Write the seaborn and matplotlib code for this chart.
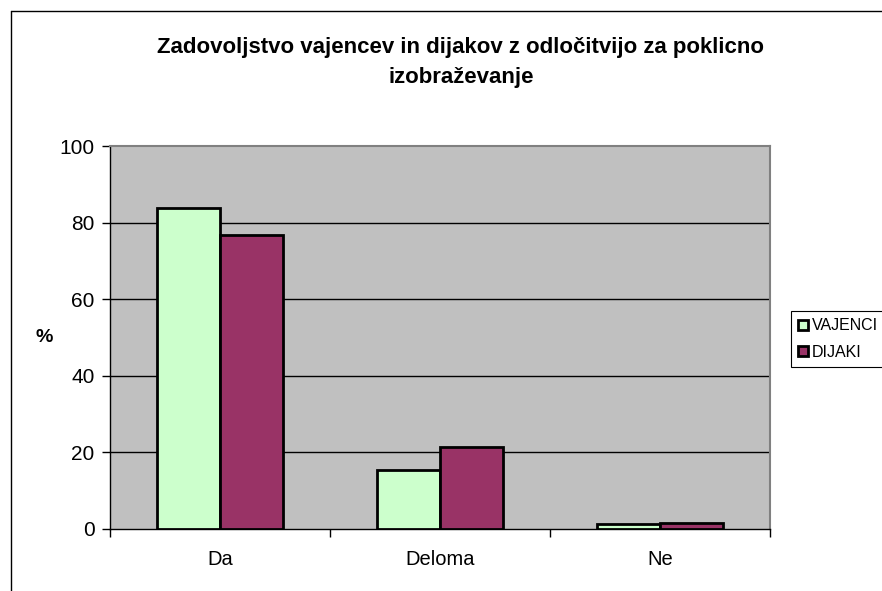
import numpy as np
import pandas as pd
import seaborn as sns
import matplotlib.pyplot as plt
from matplotlib.lines import Line2D

categories = ['Da', 'Deloma', 'Ne']
vajenci = [83.8, 15.4, 1.2]
dijaki = [76.8, 21.5, 1.6]
series_names = ['VAJENCI', 'DIJAKI']
colors = ['#CCFFCC', '#993366']

df = pd.DataFrame({
    'kategorija': categories * 2,
    'vrednost': vajenci + dijaki,
    'skupina': [series_names[0]] * 3 + [series_names[1]] * 3,
})

sns.set_style('white')
plt.rcParams['font.family'] = ['Liberation Sans', 'DejaVu Sans']
plt.rcParams['text.color'] = 'black'
plt.rcParams['xtick.color'] = 'black'
plt.rcParams['ytick.color'] = 'black'

fig = plt.figure(figsize=(8.82, 5.91), dpi=100)
W, H = 882, 591
ax = fig.add_axes([110 / W, 1 - 529 / H, 660 / W, 383 / H])
ax.set_facecolor('#C0C0C0')

sns.barplot(data=df, x='kategorija', y='vrednost', hue='skupina',
            palette=colors, width=0.573, edgecolor='black', linewidth=2,
            saturation=1, ax=ax, zorder=3)

ax.set_ylim(0, 100)
ax.set_xlim(-0.5, 2.5)
ax.set_yticks([0, 20, 40, 60, 80, 100])
for y in [20, 40, 60, 80]:
    ax.axhline(y, color='black', lw=1, zorder=1)

ax.tick_params(axis='y', which='major', length=6, width=1,
               labelsize=15, pad=5, left=True)
ax.set_xticks([0, 1, 2])
ax.set_xticklabels(categories)
ax.tick_params(axis='x', which='major', length=0, labelsize=14.5, pad=15)
ax.set_xticks([-0.5, 0.5, 1.5, 2.5], minor=True)
ax.tick_params(axis='x', which='minor', length=6, width=1, bottom=True)
ax.set_xlabel('')
ax.set_ylabel('')
fig.text(44 / W, 1 - 338 / H, '%', ha='center', va='center',
         fontsize=14, fontweight='bold')

for s in ['left', 'bottom']:
    ax.spines[s].set_color('black')
    ax.spines[s].set_linewidth(1)
for s in ['top', 'right']:
    ax.spines[s].set_color('#808080')
    ax.spines[s].set_linewidth(1.5)

fig.text(461 / W, 1 - 47 / H, 'Zadovoljstvo vajencev in dijakov z odločitvijo za poklicno',
         ha='center', va='center', fontsize=16, fontweight='bold')
fig.text(461 / W, 1 - 77 / H, 'izobraževanje',
         ha='center', va='center', fontsize=16, fontweight='bold')

# outer chart frame
fig.add_artist(Line2D([11 / W, 11 / W], [0, 1 - 11 / H], color='black', lw=1))
fig.add_artist(Line2D([11 / W, 1], [1 - 11 / H, 1 - 11 / H], color='black', lw=1))

handles, labels = ax.get_legend_handles_labels()
leg = ax.legend(handles, labels, loc='center left',
                bbox_to_anchor=(791 / W, 1 - 339 / H), bbox_transform=fig.transFigure,
                fancybox=False, edgecolor='black', framealpha=1,
                fontsize=11.5, handlelength=0.6, handleheight=0.6,
                handletextpad=0.25, borderpad=0.45, labelspacing=0.7,
                borderaxespad=0)
leg.get_frame().set_linewidth(0.8)
for h in leg.legend_handles:
    h.set_edgecolor('black')
    h.set_linewidth(2)

fig.savefig('out.png', dpi=100)
